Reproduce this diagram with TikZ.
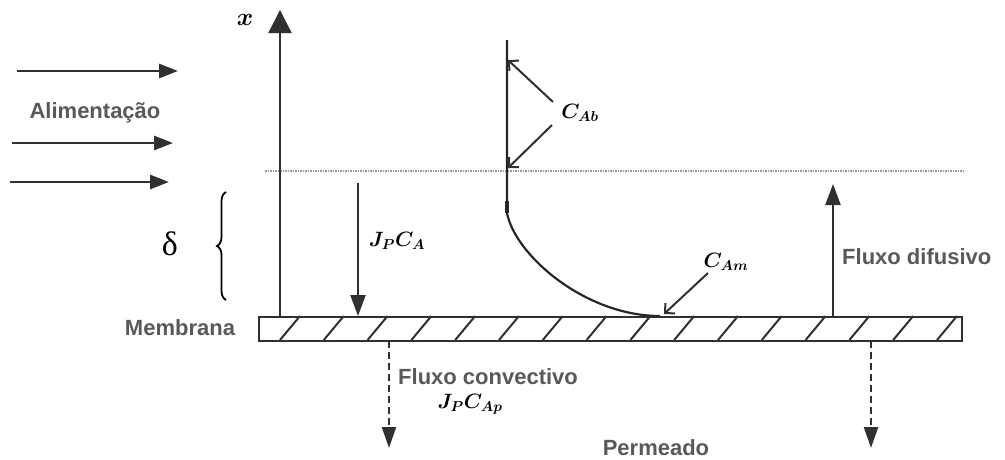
\documentclass[tikz,border=0pt]{standalone}
\usepackage{fontspec}
\usepackage{bm}
\setmainfont{Liberation Sans}
\newfontfamily\grk{Liberation Serif}
\usetikzlibrary{arrows.meta,decorations.pathreplacing}
\definecolor{txtgray}{HTML}{595959}
\definecolor{linegray}{HTML}{303030}
\tikzset{
  lbl/.style={font=\fontsize{22}{26}\selectfont\bfseries, text=txtgray, inner sep=0pt},
  mlbl/.style={font=\fontsize{21}{25}\selectfont, inner sep=0pt},
  solidarrow/.style={line width=2.3pt, draw=linegray, -{Triangle[length=21pt,width=15pt]}},
  feedarrow/.style={line width=2.8pt, draw=linegray, -{Triangle[length=19pt,width=14pt]}},
  dasharrow/.style={line width=2.2pt, draw=linegray, dash pattern=on 7pt off 4pt, -{Triangle[length=21pt,width=14pt]}},
  barb/.style={line width=2pt, draw=linegray, -{Straight Barb[length=7pt,width=14pt,line width=2pt]}},
  membrane/.style={line width=2.3pt, draw=linegray},
  hatchline/.style={line width=2pt, draw=linegray},
  dots/.style={line width=1.8pt, draw=black!40, dash pattern=on 1.5pt off 1pt}
}
\begin{document}
\begin{tikzpicture}[x=1pt,y=-1pt]
\useasboundingbox (0,0) rectangle (1005,459);
% membrane
\node[membrane, draw, rectangle, minimum width=703pt, minimum height=24pt, inner sep=0pt, anchor=north west] (mem) at (258,316) {};
\foreach \i in {0,...,15} \draw[hatchline] ({280+43.8*\i},340) -- ++(20,-24);
% dotted boundary
\coordinate (dotL) at (265,171);
\coordinate (dotR) at (965,171);
\draw[dots] (dotL) -- (dotR);
% feed arrows
\coordinate (f1a) at (17,71);  \coordinate (f1b) at (178,71);
\coordinate (f2a) at (12,143); \coordinate (f2b) at (173,143);
\coordinate (f3a) at (10,182); \coordinate (f3b) at (169,182);
\draw[feedarrow] (f1a) -- (f1b);
\draw[feedarrow] (f2a) -- (f2b);
\draw[feedarrow] (f3a) -- (f3b);
\node[lbl] (alim) at (95,113) {Alimentação};
% x axis
\coordinate (xb) at (280,316);
\coordinate (xt) at (280,10);
\draw[solidarrow, -{Triangle[length=23pt,width=23pt]}] (xb) -- (xt);
\node[font=\fontsize{28}{32}\selectfont, inner sep=0pt] (xl) at (245,20) {$\bm{x}$};
% delta and brace
\node[inner sep=0pt, font=\fontsize{34}{38}\selectfont\grk] (delta) at (170,244) {δ};
\coordinate (brb) at (226,300);
\coordinate (brt) at (226,192);
\draw[line width=1.8pt, decorate, decoration={brace, amplitude=9pt}] (brb) -- (brt);
% J_P C_A
\coordinate (jpa) at (358,183);
\coordinate (jpb) at (358,316);
\draw[solidarrow] (jpa) -- (jpb);
\node[mlbl] (jpca) at (397,241) {$\bm{J_P C_A}$};
% concentration profile
\coordinate (pt) at (507,40);
\coordinate (pk) at (507,213);
\coordinate (pm) at (660,316);
\draw[line width=2.2pt, draw=black!85] (pt) -- (pk) .. controls (515,255) and (585,316) .. (pm);
\draw[line width=3.4pt, draw=black!85] (507,201) -- (pk);
% C_Ab
\node[mlbl] (cab) at (580,113) {$\bm{C_{Ab}}$};
\coordinate (cab1) at (553,102);
\coordinate (cab1t) at (508,60);
\coordinate (cab2) at (552,125);
\coordinate (cab2t) at (508,168);
\draw[barb] (cab1) -- (cab1t);
\draw[barb] (cab2) -- (cab2t);
% C_Am
\node[mlbl] (cam) at (726,262) {$\bm{C_{Am}}$};
\coordinate (cams) at (708,273);
\coordinate (camt) at (664,314);
\draw[barb] (cams) -- (camt);
% diffusive flux
\coordinate (dfa) at (833,316);
\coordinate (dfb) at (833,184);
\draw[solidarrow] (dfa) -- (dfb);
\node[lbl, anchor=west] (fdif) at (842,257) {Fluxo difusivo};
% membrane label
\node[lbl] (memlbl) at (180,328) {Membrana};
% convective flux
\coordinate (c1a) at (389,341);
\coordinate (c1b) at (389,448);
\coordinate (c2a) at (871,341);
\coordinate (c2b) at (871,448);
\draw[dasharrow] (c1a) -- (c1b);
\draw[dasharrow] (c2a) -- (c2b);
\node[lbl, anchor=west] (fconv) at (398,377) {Fluxo convectivo};
\node[mlbl] (jpcap) at (470,404) {$\bm{J_P C_{Ap}}$};
\node[lbl] (perm) at (656,448) {Permeado};
\end{tikzpicture}
\end{document}
